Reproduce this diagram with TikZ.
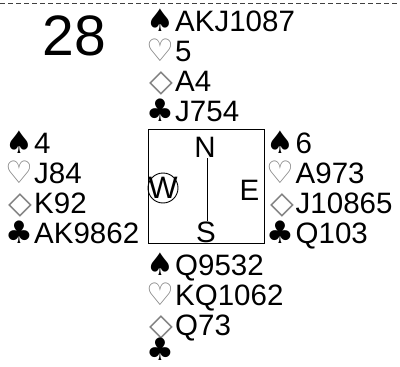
\documentclass[tikz,border=0pt]{standalone}
\usepackage{fontspec}
\setmainfont{Liberation Sans}
\newfontfamily\symfont{DejaVu Sans}
\begin{document}
\begin{tikzpicture}[x=1pt,y=-1pt,
  txt/.style={inner sep=0pt, anchor=base west, font=\fontsize{29.5}{30}\selectfont},
  blk/.style={inner sep=0pt, anchor=base east, text height=21pt, text depth=0pt, font=\symfont\fontsize{31}{30}\selectfont},
  red/.style={blk, text=black!50},
  lbl/.style={inner sep=0pt, anchor=base, font=\fontsize{29.5}{30}\selectfont},
  frame/.style={draw=black, line width=0.9pt},
  topdash/.style={draw=black!75, line width=0.9pt, dash pattern=on 5pt off 3pt}
]
\useasboundingbox (0,0) rectangle (400,367);
\coordinate (dl) at (0,3);
\coordinate (dr) at (400,3);
\draw[topdash] (dl) -- (dr);
\node[inner sep=0pt, anchor=base, font=\fontsize{57}{57}\selectfont] (num) at (74.5,55) {28};
% North
\node[blk] (ns) at (174,31) {♠};  \node[txt] (nst) at (175,31) {AKJ1087};
\node[red] (nh) at (174,61) {♡};  \node[txt] (nht) at (175,61) {5};
\node[red] (nd) at (174,91) {◇};  \node[txt] (ndt) at (175,91) {A4};
\node[blk] (nc) at (174,121) {♣}; \node[txt] (nct) at (175,121) {J754};
% West
\node[blk] (ws) at (33,153) {♠};  \node[txt] (wst) at (34,153) {4};
\node[red] (wh) at (33,183) {♡};  \node[txt] (wht) at (34,183) {J84};
\node[red] (wd) at (33,213) {◇};  \node[txt] (wdt) at (34,213) {K92};
\node[blk] (wc) at (33,243) {♣};  \node[txt] (wct) at (34,243) {AK9862};
% East
\node[blk] (es) at (294.5,153) {♠};  \node[txt] (est) at (295.5,153) {6};
\node[red] (eh) at (294.5,183) {♡};  \node[txt] (eht) at (295.5,183) {A973};
\node[red] (ed) at (294.5,213) {◇};  \node[txt] (edt) at (295.5,213) {J10865};
\node[blk] (ec) at (294.5,243) {♣};  \node[txt] (ect) at (295.5,243) {Q103};
% South
\node[blk] (ss) at (174,275) {♠};  \node[txt] (sst) at (175,275) {Q9532};
\node[red] (sh) at (174,305) {♡};  \node[txt] (sht) at (175,305) {KQ1062};
\node[red] (sd) at (174,335) {◇};  \node[txt] (sdt) at (175,335) {Q73};
\node[blk] (sc) at (174,360) {♣};
% Compass box
\node[frame, inner sep=0pt, minimum width=116pt, minimum height=114pt] (box) at (206,186) {};
\node[lbl] (N) at (205,157) {N};
\node[lbl] (S) at (206,242) {S};
\node[lbl] (E) at (249.5,200) {E};
\node[lbl, font=\fontsize{31}{30}\selectfont] (W) at (163,198) {W};
\node[draw=black, line width=0.9pt, circle, minimum size=30pt, inner sep=0pt] (wc0) at (163,188) {};
\draw[line width=0.9pt] (N.south) ++(2,1) coordinate (vt) (vt) -- (vt |- S.north) coordinate (vb);
\end{tikzpicture}
\end{document}
